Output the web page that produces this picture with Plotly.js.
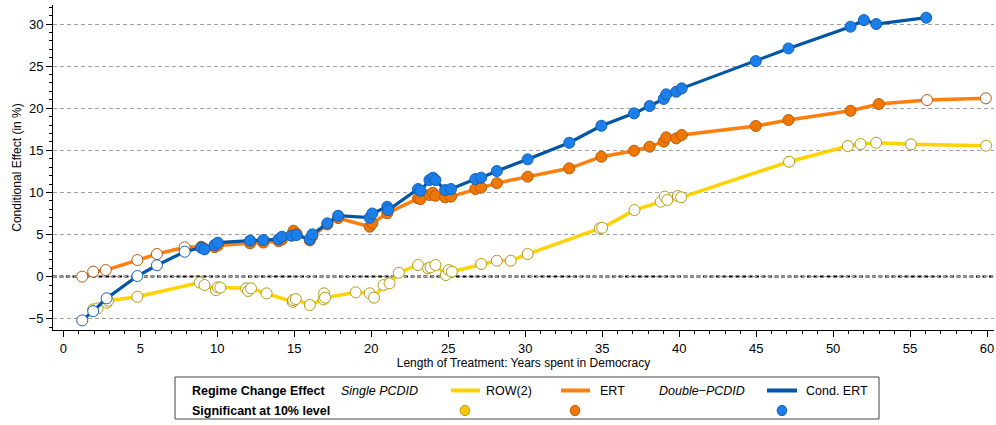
<!DOCTYPE html>
<html>
<head>
<meta charset="utf-8">
<script src="https://cdn.plot.ly/plotly-3.0.1.min.js"></script>
<style>html,body{margin:0;padding:0;background:#fff}#chart{width:996px;height:425px}</style>
</head>
<body>
<div id="chart"></div>
<script>
// ROW(2) — Single PCDID
const rowX = [1.94, 2.23, 2.81, 2.91, 4.81, 8.85, 9.17, 9.92, 10.03, 10.2, 11.87, 12.0, 12.19, 13.2, 14.9, 14.93, 15.1, 16.01, 16.9, 16.94, 17.0, 18.99, 19.9, 20.18, 20.8, 21.19, 21.79, 23.04, 23.69, 23.85, 24.17, 24.85, 25.03, 25.24, 27.14, 28.16, 29.06, 30.16, 34.85, 35.0, 37.1, 38.8, 39.06, 39.23, 39.92, 40.13, 47.14, 50.96, 51.78, 52.8, 55.06, 59.94];
const rowY = [-3.89, -3.77, -3.1, -2.86, -2.39, -0.7, -1.0, -1.6, -1.27, -1.3, -1.39, -1.7, -1.39, -1.99, -3.0, -2.78, -2.66, -3.37, -2.7, -1.98, -2.5, -1.87, -1.98, -2.5, -1.0, -0.8, 0.46, 1.38, 0.98, 1.1, 1.38, 0.19, 0.78, 0.59, 1.5, 1.89, 1.89, 2.68, 5.73, 5.8, 7.9, 8.9, 9.5, 9.1, 9.57, 9.42, 13.65, 15.51, 15.75, 15.9, 15.71, 15.55];
const rowSig = rowX.map(() => false);

// ERT — Single PCDID
const ertX = [1.23, 1.94, 2.76, 4.81, 6.08, 7.88, 8.96, 9.17, 9.82, 10.03, 12.13, 12.99, 13.98, 14.2, 14.82, 14.95, 15.15, 16.01, 16.18, 17.15, 17.85, 19.9, 20.07, 21.04, 23.04, 23.2, 23.78, 24.0, 24.17, 24.8, 25.18, 26.76, 27.14, 28.16, 30.16, 32.86, 34.95, 37.07, 38.08, 39.0, 39.16, 39.81, 40.17, 44.98, 47.1, 51.13, 52.97, 56.1, 59.92];
const ertY = [0, 0.59, 0.78, 1.97, 2.68, 3.48, 3.55, 3.3, 3.5, 3.7, 3.95, 4.05, 4.2, 4.4, 4.9, 5.45, 5.1, 4.3, 4.8, 6.2, 6.95, 5.93, 6.33, 7.52, 9.3, 9.2, 9.69, 9.95, 9.6, 9.42, 9.5, 10.4, 10.56, 11.1, 11.87, 12.86, 14.24, 14.95, 15.43, 16.03, 16.54, 16.42, 16.82, 17.89, 18.6, 19.7, 20.5, 20.97, 21.17];
const ertSig = [false, false, false, false, false, false, true, true, true, true, true, true, true, true, true, true, true, true, true, true, true, true, true, true, true, true, true, true, true, true, true, true, true, true, true, true, true, true, true, true, true, true, true, true, true, true, true, false, false];

// Cond. ERT — Double-PCDID
const condX = [1.23, 1.94, 2.81, 4.81, 6.08, 7.88, 8.96, 9.17, 9.82, 10.03, 12.13, 12.99, 13.98, 14.2, 14.82, 15.15, 16.01, 16.18, 17.15, 17.85, 19.9, 20.07, 21.04, 21.1, 23.04, 23.2, 23.78, 24.0, 24.17, 24.8, 25.18, 26.76, 27.14, 28.16, 30.16, 32.86, 34.95, 37.07, 38.08, 39.0, 39.16, 39.81, 40.17, 44.98, 47.1, 51.13, 52.0, 52.8, 56.05];
const condY = [-5.2, -4.1, -2.58, 0.07, 1.35, 2.96, 3.43, 3.24, 3.75, 4.03, 4.27, 4.35, 4.43, 4.74, 4.86, 4.94, 4.43, 5.02, 6.33, 7.23, 7.0, 7.5, 8.3, 7.9, 10.4, 10.2, 11.47, 11.75, 11.47, 10.28, 10.4, 11.59, 11.75, 12.54, 13.93, 15.9, 17.92, 19.39, 20.26, 21.1, 21.65, 21.96, 22.36, 25.6, 27.1, 29.68, 30.47, 30.0, 30.75];
const condSig = condX.map((x) => x > 8.5);

const xTicks = [0, 5, 10, 15, 20, 25, 30, 35, 40, 45, 50, 55, 60];
const yTicks = [-5, 0, 5, 10, 15, 20, 25, 30];

const C = {
  row:  {line: '#FFD200', fill: '#F7C600', edge: '#B89A10'},
  ert:  {line: '#FF7F0E', fill: '#F07800', edge: '#B85A10'},
  cond: {line: '#0055A4', fill: '#1A7FEA', edge: '#1560B8'}
};

function series(x, y, sig, c, lw) {
  return {
    type: 'scatter', mode: 'lines+markers', x: x, y: y, showlegend: false,
    hoverinfo: 'x+y',
    line: {color: c.line, width: lw},
    marker: {size: 11, symbol: 'circle',
      color: sig.map(s => s ? c.fill : '#ffffff'),
      line: {color: c.edge, width: 1}}
  };
}

const data = [
  series(rowX, rowY, rowSig, C.row, 3.5),
  series(ertX, ertY, ertSig, C.ert, 3.5),
  series(condX, condY, condSig, C.cond, 3.2)
];

const px = v => (v - 53) / 941;
const py = v => (330 - v) / 325;
const f = {family: 'Liberation Sans, Arial, sans-serif', size: 12.5, color: '#000'};
const r1 = py(390.5), r2 = py(410.5);

const annotations = [
  {text: '<b>Regime Change Effect</b>', x: px(191), y: r1},
  {text: '<i>Single PCDID</i>', x: px(340), y: r1},
  {text: 'ROW(2)', x: px(485), y: r1},
  {text: 'ERT', x: px(599), y: r1},
  {text: '<i>Double\u2212PCDID</i>', x: px(658), y: r1},
  {text: 'Cond. ERT', x: px(805), y: r1},
  {text: '<b>Significant at 10% level</b>', x: px(191), y: r2}
].map(a => Object.assign({xref: 'paper', yref: 'paper', xanchor: 'left', yanchor: 'middle', showarrow: false, font: f, xshift: -1}, a));

function legLine(x0, x1, col) {
  return {type: 'line', xref: 'paper', yref: 'paper', x0: px(x0), x1: px(x1), y0: r1, y1: r1, line: {color: col, width: 4}};
}
function legDot(xc, c) {
  return {type: 'circle', xref: 'paper', yref: 'paper', xsizemode: 'pixel', ysizemode: 'pixel',
    xanchor: px(xc), yanchor: r2, x0: -4.8, x1: 4.8, y0: -5.2, y1: 5.2,
    fillcolor: c.fill, line: {color: c.edge, width: 1}};
}

const shapes = [
  {type: 'line', xref: 'paper', yref: 'y', x0: 0, x1: 1, y0: 0, y1: 0, layer: 'below',
   line: {color: '#000', width: 2, dash: '4px,2.5px'}},
  {type: 'rect', xref: 'paper', yref: 'paper', x0: px(175), x1: px(879), y0: py(377), y1: py(419),
   line: {color: '#444', width: 1}, fillcolor: 'rgba(0,0,0,0)'},
  legLine(451, 480, C.row.line),
  legLine(561, 590, C.ert.line),
  legLine(767, 797, C.cond.line),
  legDot(465, C.row),
  legDot(575, C.ert),
  legDot(782, C.cond)
];

const layout = {
  width: 996, height: 425,
  margin: {l: 53, r: 2, t: 5, b: 95},
  paper_bgcolor: '#fff', plot_bgcolor: '#fff',
  font: {family: 'Liberation Sans, Arial, sans-serif', color: '#000', size: 13},
  showlegend: false,
  xaxis: {
    range: [-0.67, 60.45], tickvals: xTicks, ticktext: xTicks.map(String),
    showgrid: false, zeroline: false, showline: true, linecolor: '#000', linewidth: 1,
    ticks: 'outside', ticklen: 6, tickcolor: '#000', ticklabeloverflow: 'allow',
    minor: {dtick: 1, tick0: 0, ticks: 'outside', ticklen: 3, tickcolor: '#000', showgrid: false},
    tickfont: {size: 13},
    title: {text: 'Length of Treatment: Years spent in Democracy', font: {size: 12}, standoff: 0},
    automargin: false
  },
  yaxis: {
    range: [-6.34, 32.26], tickvals: yTicks, ticktext: yTicks.map(v => v < 0 ? '\u2212' + Math.abs(v) : String(v)),
    showgrid: true, gridcolor: '#a0a0a0', griddash: '4px,3px', gridwidth: 1,
    zeroline: false, showline: true, linecolor: '#000', linewidth: 1,
    ticks: 'outside', ticklen: 6, tickcolor: '#000',
    minor: {dtick: 1, tick0: 0, ticks: 'outside', ticklen: 3, tickcolor: '#000', showgrid: false},
    tickfont: {size: 13},
    title: {text: 'Conditional Effect (in %)', font: {size: 12}, standoff: 4},
    automargin: false
  },
  shapes: shapes,
  annotations: annotations
};

Plotly.newPlot('chart', data, layout, {displayModeBar: false, staticPlot: true});
</script>
</body>
</html>
